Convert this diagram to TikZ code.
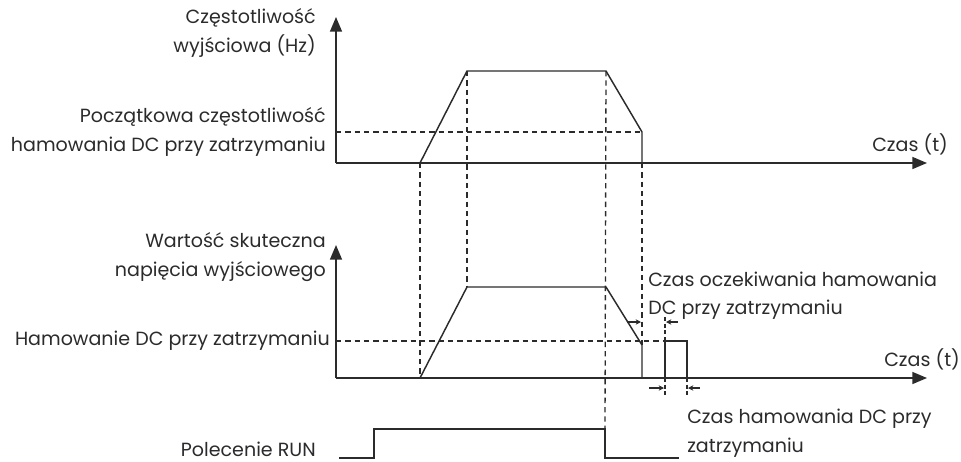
\documentclass[tikz,border=0pt]{standalone}
\usepackage{fontspec}
\setmainfont{Poppins}
\usetikzlibrary{arrows.meta}
\definecolor{ink}{HTML}{2B2B2B}
\begin{document}
\begin{tikzpicture}[x=0.75pt,y=-0.75pt,
  curve/.style={line width=1.1pt, draw=ink},
  guide/.style={line width=1pt, draw=ink, dash pattern=on 4pt off 3pt},
  axis/.style={line width=1.1pt, draw=ink, -{Triangle[width=9pt,length=11pt]}},
  lbl/.style={text=ink, font=\fontsize{14.3}{21.3}\selectfont, inner sep=0pt},
  span/.style={line width=0.8pt, draw=ink, -{Stealth[length=4pt,width=4pt]}},
  tick/.style={line width=0.8pt, draw=ink, dash pattern=on 3pt off 2pt}
]
\useasboundingbox (0,0) rectangle (961,461);

% ---- output frequency ----
\coordinate (o1) at (336,163);
\coordinate (y1) at (336,17);
\coordinate (x1) at (927,163);
\coordinate (fb) at (336,132);
\coordinate (a1) at (420,163);
\coordinate (b1) at (467,71);
\coordinate (c1) at (606,71);
\coordinate (d1) at (642,132);
\coordinate (e1) at (642,163);
\draw[axis] (o1) -- (y1);
\draw[axis] (o1) -- (x1);
\draw[curve] (a1) -- (b1) -- (c1) -- (d1) -- (e1);

% ---- output voltage ----
\coordinate (o2) at (336,378);
\coordinate (y2) at (336,245);
\coordinate (x2) at (927,378);
\coordinate (vb) at (336,341);
\coordinate (a2) at (420,378);
\coordinate (b2) at (467,287);
\coordinate (c2) at (606,287);
\coordinate (d2) at (642,345);
\coordinate (e2) at (642,378);
\coordinate (p1) at (665,378);
\coordinate (p2) at (665,341);
\coordinate (p3) at (687,341);
\coordinate (p4) at (687,378);
\draw[axis] (o2) -- (y2);
\draw[axis] (o2) -- (x2);
\draw[curve] (a2) -- (b2) -- (c2) -- (d2) -- (e2);
\draw[curve] (p1) -- (p2) -- (p3) -- (p4);

% ---- RUN command ----
\coordinate (r0) at (339,458);
\coordinate (r1) at (374,458);
\coordinate (r2) at (374,429);
\coordinate (r3) at (605,429);
\coordinate (r4) at (605,458);
\coordinate (r5) at (679,458);
\draw[curve] (r0) -- (r1) -- (r2) -- (r3) -- (r4) -- (r5);

% ---- guide lines ----
\draw[guide] (fb) -- (d1);
\draw[guide] (vb) -- (p2);
\draw[guide] (a1) -- (a2);
\draw[guide] (b1) -- (b2);
\draw[guide] (c1) -- (r3);
\draw[guide] (e1) -- (d2);

% ---- time spans ----
\coordinate (w0) at (627,322);
\coordinate (w1) at (641,322);
\coordinate (t0) at (665,317);
\coordinate (t1) at (678,322);
\coordinate (t2) at (666,322);
\draw[span] (w0) -- (w1);
\draw[tick] (t0) -- (p2);
\draw[span] (t1) -- (t2);
\coordinate (q0) at (665,397);
\coordinate (q1) at (687,397);
\coordinate (s0) at (649,388);
\coordinate (s1) at (664,388);
\coordinate (s2) at (700,388);
\coordinate (s3) at (688,388);
\draw[tick] (p1) -- (q0);
\draw[tick] (p4) -- (q1);
\draw[span] (s0) -- (s1);
\draw[span] (s2) -- (s3);

% ---- labels ----
\node[lbl, anchor=east, align=right] (lf) at (316,33) {Częstotliwość\\wyjściowa (Hz)};
\node[lbl, anchor=east, align=right] (lfb) at (326,132) {Początkowa częstotliwość\\hamowania DC przy zatrzymaniu};
\node[lbl, anchor=west] (lt1) at (872,144) {Czas (t)};
\node[lbl, anchor=east, align=right] (lv) at (326,257) {Wartość skuteczna\\napięcia wyjściowego};
\node[lbl, anchor=east] (lvb) at (330,341) {Hamowanie DC przy zatrzymaniu};
\node[lbl, anchor=west] (lt2) at (884,359) {Czas (t)};
\node[lbl, anchor=west, align=left] (lw) at (648,296) {Czas oczekiwania hamowania\\DC przy zatrzymaniu};
\node[lbl, anchor=west, align=left] (lh) at (687,433) {Czas hamowania DC przy\\zatrzymaniu};
\node[lbl, anchor=base east] (lr) at (316,456) {Polecenie RUN};
\end{tikzpicture}
\end{document}
